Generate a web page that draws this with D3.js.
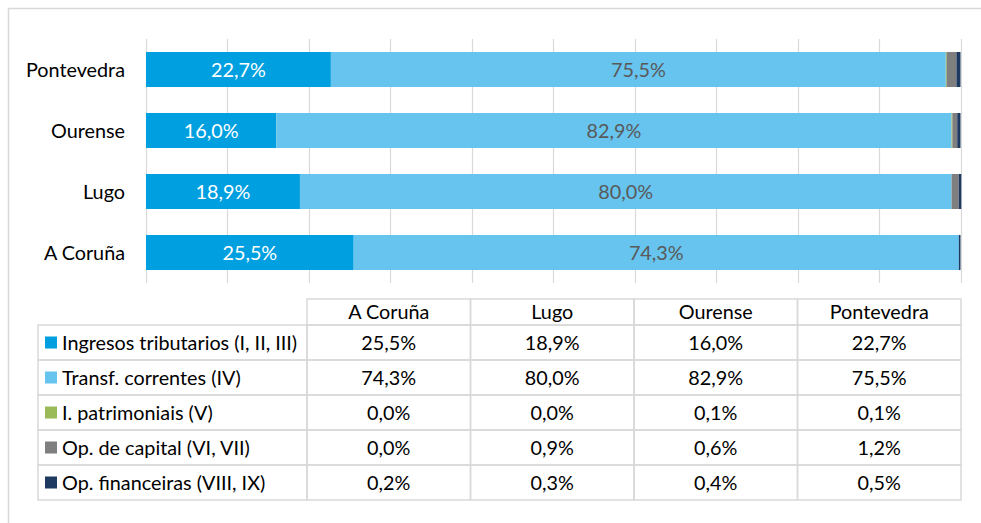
<!DOCTYPE html>
<html>
<head>
<meta charset="utf-8">
<script src="https://cdn.jsdelivr.net/npm/d3@7"></script>
<style>
  body { margin: 0; background: #fff; }
  svg { display: block; font-family: Lato, "Open Sans", sans-serif; }
</style>
</head>
<body>
<div id="chart"></div>
<script>
// data
const provinces = ["A Coruña", "Lugo", "Ourense", "Pontevedra"];
const seriesNames = [
  "Ingresos tributarios (I, II, III)",
  "Transf. correntes (IV)",
  "I. patrimoniais (V)",
  "Op. de capital (VI, VII)",
  "Op. financeiras (VIII, IX)"
];
const ingresos = [25.5, 18.9, 16.0, 22.7];
const transf = [74.3, 80.0, 82.9, 75.5];
const patrimoniais = [0.0, 0.0, 0.1, 0.1];
const capital = [0.0, 0.9, 0.6, 1.2];
const financeiras = [0.2, 0.3, 0.4, 0.5];

const colors = ["#009fe0", "#66c4ee", "#9bbb59", "#7f7f7f", "#1f3a60"];
const allValues = [ingresos, transf, patrimoniais, capital, financeiras];

const width = 981, height = 523;
const fs = 19.8;
const fmt = v => d3.format(".1f")(v).replace(".", ",") + "%";

const svg = d3.select("#chart").append("svg")
  .attr("width", width)
  .attr("height", height);

// outer frame
svg.append("rect")
  .attr("x", 8.5).attr("y", 8.5)
  .attr("width", 1000).attr("height", 600)
  .attr("fill", "none")
  .attr("stroke", "#d9d9d9")
  .attr("stroke-width", 1.5);

// rows for the stack
const rows = provinces.map((p, i) => {
  const r = { province: p };
  seriesNames.forEach((s, j) => r[s] = allValues[j][i]);
  return r;
});
const stacked = d3.stack().keys(seriesNames)(rows);

const x = d3.scaleLinear().domain([0, 100]).range([146, 960.5]);
const y = d3.scaleBand()
  .domain(provinces.slice().reverse())
  .range([39, 283])
  .paddingInner(0.426)
  .paddingOuter(0.213);

// grid lines
svg.append("g")
  .selectAll("line")
  .data(d3.range(0, 101, 10))
  .join("line")
  .attr("x1", d => Math.round(x(d)) + 0.5)
  .attr("x2", d => Math.round(x(d)) + 0.5)
  .attr("y1", 39).attr("y2", 283)
  .attr("stroke", "#d9d9d9")
  .attr("stroke-width", 1.2);

// bars
const layers = svg.append("g")
  .selectAll("g")
  .data(stacked)
  .join("g")
  .attr("fill", (d, i) => colors[i]);

layers.selectAll("rect")
  .data(d => d)
  .join("rect")
  .attr("x", d => x(d[0]))
  .attr("y", d => y(d.data.province))
  .attr("width", d => Math.max(0, x(d[1]) - x(d[0])))
  .attr("height", y.bandwidth());

// data labels for the two big series
stacked.slice(0, 2).forEach((layer, i) => {
  svg.append("g")
    .selectAll("text")
    .data(layer)
    .join("text")
    .attr("x", d => (x(d[0]) + x(d[1])) / 2)
    .attr("y", d => y(d.data.province) + y.bandwidth() / 2)
    .attr("dy", "0.36em")
    .attr("text-anchor", "middle")
    .attr("font-size", fs)
    .attr("fill", i === 0 ? "#ffffff" : "#595959")
    .text(d => fmt(d[1] - d[0]));
});

// category labels
svg.append("g")
  .selectAll("text")
  .data(provinces)
  .join("text")
  .attr("x", 125)
  .attr("y", d => y(d) + y.bandwidth() / 2)
  .attr("dy", "0.36em")
  .attr("text-anchor", "end")
  .attr("font-size", fs)
  .attr("fill", "#000")
  .text(d => d);

// data table
const tableLeft = 38, labelRight = 307, tableRight = 961;
const headTop = 299, headBottom = 325, rowH = 35;
const colX = d3.scaleBand().domain(provinces).range([labelRight, tableRight]);
const rowY = d3.scaleBand().domain(seriesNames).range([headBottom, headBottom + rowH * seriesNames.length]);

const table = svg.append("g").attr("stroke", "#d9d9d9").attr("stroke-width", 1.5).attr("fill", "none");
// header cells
table.selectAll(".head")
  .data(provinces)
  .join("rect")
  .attr("x", d => colX(d)).attr("y", headTop)
  .attr("width", colX.bandwidth()).attr("height", headBottom - headTop);
// label column cells
table.selectAll(".lab")
  .data(seriesNames)
  .join("rect")
  .attr("class", "lab")
  .attr("x", tableLeft).attr("y", d => rowY(d))
  .attr("width", labelRight - tableLeft).attr("height", rowH);
// value cells
seriesNames.forEach(s => {
  table.append("g").selectAll("rect")
    .data(provinces)
    .join("rect")
    .attr("x", d => colX(d)).attr("y", rowY(s))
    .attr("width", colX.bandwidth()).attr("height", rowH);
});

svg.append("g")
  .selectAll("text")
  .data(provinces)
  .join("text")
  .attr("x", d => colX(d) + colX.bandwidth() / 2)
  .attr("y", (headTop + headBottom) / 2)
  .attr("dy", "0.36em")
  .attr("text-anchor", "middle")
  .attr("font-size", fs)
  .attr("fill", "#000")
  .text(d => d);

// legend keys + names
const legendRows = svg.append("g")
  .selectAll("g")
  .data(seriesNames)
  .join("g")
  .attr("transform", d => `translate(0,${rowY(d) + rowH / 2})`);
legendRows.append("rect")
  .attr("x", 45).attr("y", -6)
  .attr("width", 12).attr("height", 12)
  .attr("fill", (d, i) => colors[i]);
legendRows.append("text")
  .attr("x", 62)
  .attr("dy", "0.36em")
  .attr("font-size", fs)
  .attr("fill", "#000")
  .text(d => d);

// values
seriesNames.forEach((s, j) => {
  svg.append("g")
    .selectAll("text")
    .data(provinces)
    .join("text")
    .attr("x", d => colX(d) + colX.bandwidth() / 2)
    .attr("y", rowY(s) + rowH / 2)
    .attr("dy", "0.36em")
    .attr("text-anchor", "middle")
    .attr("font-size", fs)
    .attr("fill", "#000")
    .text((d, i) => fmt(allValues[j][i]));
});
</script>
</body>
</html>
